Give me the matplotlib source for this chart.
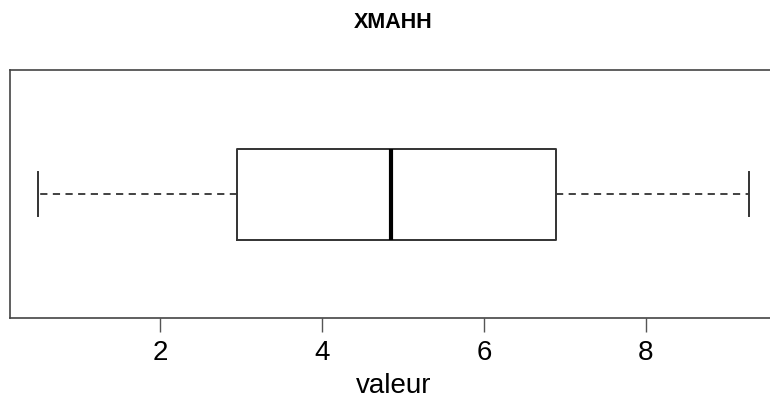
import matplotlib
matplotlib.use("Agg")
import matplotlib.pyplot as plt

# five-number summary
stat_names = ["whislo", "q1", "med", "q3", "whishi"]
stat_values = [0.49, 2.95, 4.85, 6.89, 9.28]
tick_values = [2, 4, 6, 8]

plt.rcParams["font.family"] = ["Liberation Sans", "DejaVu Sans"]

fig = plt.figure(figsize=(7.7, 4.03), dpi=100)
ax = fig.add_axes([0.013, 0.211, 0.997, 0.615])

stats = [dict(zip(stat_names, stat_values), fliers=[])]
ax.bxp(stats, positions=[1], widths=0.367, capwidths=0.18, vert=False,
       showfliers=False,
       boxprops=dict(color="#333333", linewidth=1.4),
       whiskerprops=dict(color="#333333", linewidth=1.3, linestyle=(0, (4, 3))),
       capprops=dict(color="#333333", linewidth=1.4),
       medianprops=dict(color="black", linewidth=3))

ax.set_xlim(0.14, 9.63)
ax.set_ylim(0.5, 1.5)
ax.set_yticks([])
ax.set_xticks(tick_values)
ax.tick_params(axis="x", length=10, width=1, color="#555555", labelsize=20, pad=6)
for s in ax.spines.values():
    s.set_color("#444444")
    s.set_linewidth(1.2)

ax.set_xlabel("valeur", fontsize=20, labelpad=5)
fig.text(0.511, 0.943, "XMAHH", fontsize=15.5, fontweight="bold", ha="center", va="center")

fig.savefig("out.png", dpi=100)
